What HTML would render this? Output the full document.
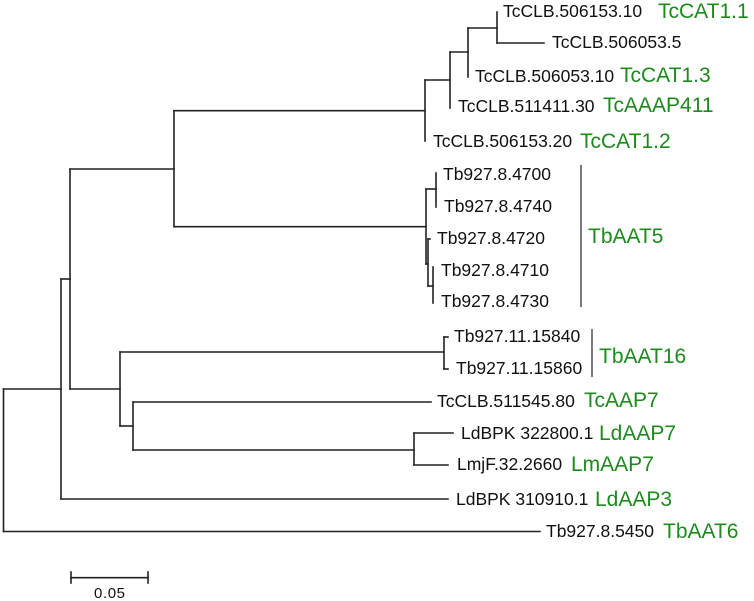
<!DOCTYPE html>
<html>
<head>
<meta charset="utf-8">
<style>
  html, body { margin: 0; padding: 0; background: #ffffff; }
  body { width: 754px; height: 601px; overflow: hidden; }
  svg { display: block; }
  .b { font-family: "Liberation Sans", Arial, sans-serif; font-size: 17.5px; fill: #111; }
  .g { font-family: "Liberation Sans", Arial, sans-serif; font-size: 21px; fill: #1e8a1e; }
  .s { font-family: "Liberation Sans", Arial, sans-serif; font-size: 15px; fill: #111; letter-spacing: 0.6px; }
</style>
</head>
<body>
<svg width="754" height="601" viewBox="0 0 754 601" xmlns="http://www.w3.org/2000/svg">
  <g stroke="#222" stroke-width="1.6" fill="none" stroke-linecap="square">
    <!-- root -->
    <line x1="3.5" y1="389" x2="3.5" y2="531.5"/>
    <line x1="3.5" y1="389" x2="61" y2="389"/>
    <line x1="3.5" y1="531.5" x2="540" y2="531.5"/>
    <!-- A -->
    <line x1="61" y1="279" x2="61" y2="499"/>
    <line x1="61" y1="279" x2="70" y2="279"/>
    <line x1="61" y1="499" x2="448" y2="499"/>
    <!-- B -->
    <line x1="70" y1="169" x2="70" y2="389"/>
    <line x1="70" y1="169" x2="174" y2="169"/>
    <line x1="70" y1="389" x2="120" y2="389"/>
    <!-- C -->
    <line x1="174" y1="110.7" x2="174" y2="226.7"/>
    <line x1="174" y1="110.7" x2="425" y2="110.7"/>
    <line x1="174" y1="226.7" x2="426" y2="226.7"/>
    <!-- Tc cluster -->
    <line x1="425" y1="80" x2="425" y2="141"/>
    <line x1="425" y1="80" x2="450" y2="80"/>
    <line x1="450" y1="52" x2="450" y2="108"/>
    <line x1="450" y1="52" x2="468" y2="52"/>
    <line x1="468" y1="28" x2="468" y2="77"/>
    <line x1="468" y1="28" x2="497" y2="28"/>
    <line x1="497" y1="12" x2="497" y2="43"/>
    <line x1="497" y1="43" x2="544" y2="43"/>
    <!-- Tb AAT5 cluster -->
    <line x1="426" y1="189" x2="426" y2="264"/>
    <line x1="426" y1="189" x2="436" y2="189"/>
    <line x1="436" y1="173" x2="436" y2="207"/>
    <line x1="426" y1="264" x2="428" y2="264"/>
    <line x1="428" y1="239" x2="428" y2="286"/>
    <line x1="428" y1="239" x2="430" y2="239"/>
    <line x1="428" y1="286" x2="433" y2="286"/>
    <line x1="433" y1="267" x2="433" y2="303"/>
    <!-- D -->
    <line x1="120" y1="352" x2="120" y2="426"/>
    <line x1="120" y1="352" x2="444" y2="352"/>
    <line x1="120" y1="426" x2="133" y2="426"/>
    <!-- AAT16 -->
    <line x1="444" y1="337" x2="444" y2="369"/>
    <line x1="444" y1="337" x2="448" y2="337"/>
    <line x1="444" y1="369" x2="448" y2="369"/>
    <!-- E -->
    <line x1="133" y1="402" x2="133" y2="450"/>
    <line x1="133" y1="402" x2="431" y2="402"/>
    <line x1="133" y1="450" x2="414" y2="450"/>
    <!-- Ld/Lm -->
    <line x1="414" y1="433" x2="414" y2="465"/>
    <line x1="414" y1="433" x2="453" y2="433"/>
    <line x1="414" y1="465" x2="448" y2="465"/>
    <!-- scale bar -->
    <line x1="71" y1="577.7" x2="148" y2="577.7"/>
    <line x1="71" y1="572" x2="71" y2="583"/>
    <line x1="148" y1="572" x2="148" y2="583"/>
  </g>
  <!-- brackets -->
  <g stroke="#444" stroke-width="1.4">
    <line x1="581" y1="165" x2="581" y2="307"/>
    <line x1="592" y1="329" x2="592" y2="377"/>
  </g>

  <!-- black labels -->
  <text class="b" x="503" y="17">TcCLB.506153.10</text>
  <text class="b" x="552" y="48">TcCLB.506053.5</text>
  <text class="b" x="475" y="82">TcCLB.506053.10</text>
  <text class="b" x="458" y="112">TcCLB.511411.30</text>
  <text class="b" x="433" y="147">TcCLB.506153.20</text>
  <text class="b" x="443" y="180">Tb927.8.4700</text>
  <text class="b" x="444" y="212">Tb927.8.4740</text>
  <text class="b" x="437" y="244">Tb927.8.4720</text>
  <text class="b" x="441" y="276">Tb927.8.4710</text>
  <text class="b" x="441" y="307">Tb927.8.4730</text>
  <text class="b" x="454" y="342">Tb927.11.15840</text>
  <text class="b" x="456" y="374">Tb927.11.15860</text>
  <text class="b" x="437" y="407">TcCLB.511545.80</text>
  <text class="b" x="461" y="439">LdBPK 322800.1</text>
  <text class="b" x="457" y="470">LmjF.32.2660</text>
  <text class="b" x="456" y="505">LdBPK 310910.1</text>
  <text class="b" x="546" y="537">Tb927.8.5450</text>

  <!-- green labels -->
  <text class="g" x="658" y="18">TcCAT1.1</text>
  <text class="g" x="620" y="82">TcCAT1.3</text>
  <text class="g" x="603" y="112">TcAAAP411</text>
  <text class="g" x="580" y="148">TcCAT1.2</text>
  <text class="g" x="588" y="243">TbAAT5</text>
  <text class="g" x="599" y="363">TbAAT16</text>
  <text class="g" x="584" y="407">TcAAP7</text>
  <text class="g" x="599" y="440">LdAAP7</text>
  <text class="g" x="571" y="471">LmAAP7</text>
  <text class="g" x="595" y="506">LdAAP3</text>
  <text class="g" x="663" y="538">TbAAT6</text>

  <!-- scale label -->
  <text class="s" x="94" y="598">0.05</text>
</svg>
</body>
</html>
